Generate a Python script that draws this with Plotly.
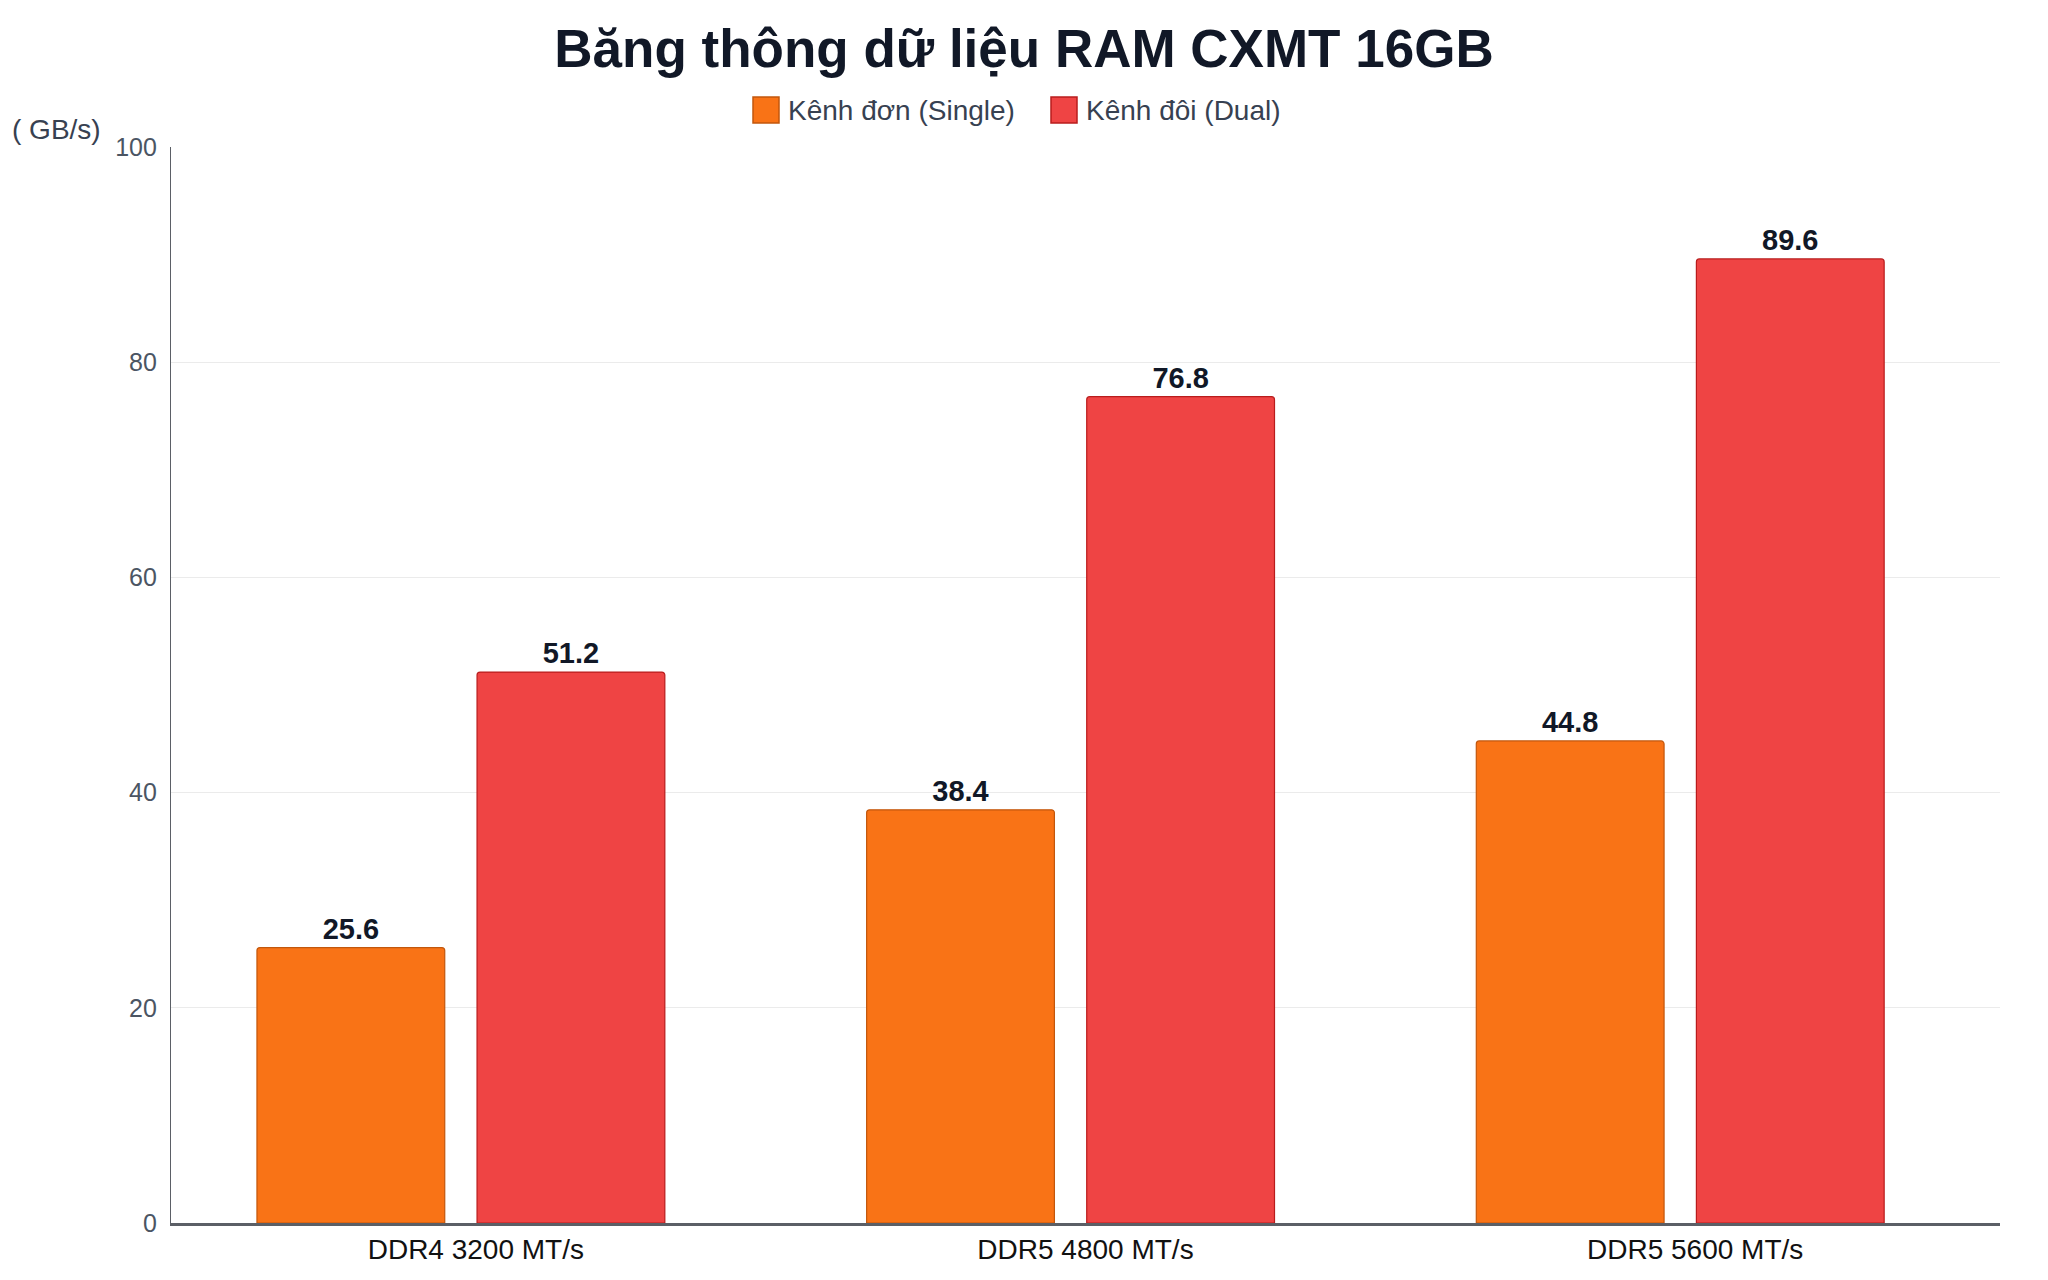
import plotly.graph_objects as go

# data
categories = ["DDR4 3200 MT/s", "DDR5 4800 MT/s", "DDR5 5600 MT/s"]
single_vals = [25.6, 38.4, 44.8]
dual_vals = [51.2, 76.8, 89.6]
series_names = ["Kênh đơn (Single)", "Kênh đôi (Dual)"]
y_ticks = [0, 20, 40, 60, 80, 100]

FONT = "Liberation Sans, Arial, sans-serif"
ORANGE, ORANGE_EDGE = "#f97316", "#c2570c"
RED, RED_EDGE = "#ef4444", "#b91c1c"

# figure size kept a little under the window so the page does not scroll
W, H = 2032, 1264
L, R, T, B = 163, 40, 139, 49
PW, PH = W - L - R, H - T - B
BAR_W = 0.308  # in category units; the pair sits a bit left of the tick, like the source


def px(x):  # figure pixel -> paper x
    return (x - L) / PW


def py(y):  # figure pixel (from top) -> paper y
    return 1 - (y - T) / PH


fig = go.Figure()
for name, vals, col, edge, off in [(series_names[0], single_vals, ORANGE, ORANGE_EDGE, -0.359),
                                   (series_names[1], dual_vals, RED, RED_EDGE, 0.002)]:
    fig.add_trace(go.Bar(
        x=categories, y=vals, name=name, width=BAR_W, offset=off,
        marker=dict(color=col, line=dict(color=edge, width=1.2)),
        text=[f"{v:.1f}" for v in vals], textposition="outside",
        textfont=dict(family=FONT, size=29, color="#111827", weight="bold"),
        cliponaxis=False,
    ))

# hand-made legend (plotly's bar swatches are too small)
shapes, annots = [], []
for (x0, tx), name, col, edge in [((745, 778), series_names[0], ORANGE, ORANGE_EDGE),
                                  ((1043, 1076), series_names[1], RED, RED_EDGE)]:
    shapes.append(dict(type="rect", xref="paper", yref="paper", x0=px(x0), x1=px(x0 + 26),
                       y0=py(89), y1=py(115), fillcolor=col, line=dict(color=edge, width=1.5)))
    annots.append(dict(text=name, xref="paper", yref="paper", x=px(tx), y=py(102),
                       xanchor="left", yanchor="middle", showarrow=False,
                       font=dict(family=FONT, size=28, color="#374151")))

annots.append(dict(text="( GB/s)", xref="paper", yref="paper", x=px(95), xanchor="right",
                   y=py(122), yanchor="middle", showarrow=False,
                   font=dict(family=FONT, size=28, color="#374151")))

fig.update_layout(
    width=W, height=H,
    paper_bgcolor="white", plot_bgcolor="white",
    margin=dict(l=L, r=R, t=T, b=B, autoexpand=False),
    barmode="group", barcornerradius=3,
    font=dict(family=FONT),
    showlegend=False,
    title=dict(text="<b>Băng thông dữ liệu RAM CXMT 16GB</b>", x=0.5, xref="container",
               xanchor="center", y=1 - 40 / H, yref="container", yanchor="middle",
               font=dict(family=FONT, size=53, color="#111827")),
    xaxis=dict(showgrid=False, showline=True, linecolor="#5b5f66", linewidth=2.5,
               ticks="", tickfont=dict(family=FONT, size=28, color="#111111"),
               automargin=False),
    yaxis=dict(range=[0, 100], tickvals=y_ticks, showgrid=True, gridcolor="#ebebeb",
               gridwidth=1.2, showline=True, linecolor="#5b5f66", linewidth=1.3,
               zeroline=False, ticks="", ticklabelstandoff=8,
               tickfont=dict(family=FONT, size=25, color="#4b5563"), automargin=False),
    shapes=shapes,
    annotations=annots,
)

fig.write_html("out.html")
